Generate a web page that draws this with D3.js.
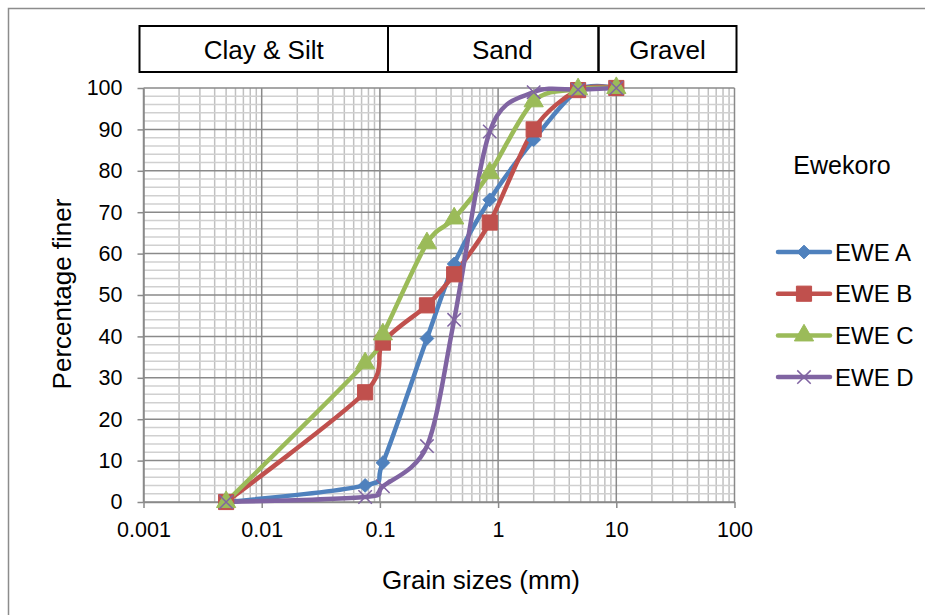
<!DOCTYPE html>
<html>
<head>
<meta charset="utf-8">
<script src="https://cdn.jsdelivr.net/npm/d3@7"></script>
<style>
	body { margin: 0; background: #fff; }
	svg { display: block; font-family: "Liberation Sans", Arial, sans-serif; }
</style>
</head>
<body>
<div class="chart"></div>
<script>
// sieve sizes (mm) and percentage finer for each sample
var sizes = [0.005, 0.075, 0.106, 0.25, 0.425, 0.85, 2, 4.75, 10];
var eweA = [0, 4, 9.5, 39.5, 57.5, 73, 87.5, 99.5, 100];
var eweB = [0, 26.5, 38.5, 47.5, 55, 67.5, 90, 99.5, 100];
var eweC = [0, 33.5, 40.5, 62.5, 68.5, 79.5, 96.8, 99.7, 100];
var eweD = [0, 1.2, 3.8, 13.5, 44, 89.5, 99, 99.6, 100];
var seriesNames = ["EWE A", "EWE B", "EWE C", "EWE D"];
var xTicks = [0.001, 0.01, 0.1, 1, 10, 100];
var yTicks = [0, 10, 20, 30, 40, 50, 60, 70, 80, 90, 100];
var zones = ["Clay & Silt", "Sand", "Gravel"];

var w = 925,
	h = 615,
	pLeft = 143.5,
	pRight = 734.5,
	pTop = 88,
	pBottom = 502;

var colors = ["#4F81BD", "#C0504D", "#9BBB59", "#8064A2"];
var symbols = [d3.symbolDiamond2, d3.symbolSquare, d3.symbolTriangle, d3.symbolX];
var symSizes = [120, 230, 160, 120];

var svg = d3.select(".chart").append("svg").attr("width", w).attr("height", h);

// outer chart border
svg.append("path")
	.attr("d", "M8.5,615V8.5H925")
	.attr("fill", "none")
	.attr("stroke", "#8c8c8c")
	.attr("stroke-width", 1.5);

var xScale = d3.scaleLog().domain([0.001, 100]).range([pLeft, pRight]);
var yScale = d3.scaleLinear().domain([0, 100]).range([pBottom, pTop]);

// minor grid
var minorX = [];
xTicks.slice(0, -1).forEach((t) => {
	for (var k = 2; k < 10; k++) minorX.push(t * k);
});
var minorY = d3.range(0, 101, 2).filter((v) => v % 10 != 0);

var grid = svg.append("g");
grid.selectAll(".mx")
	.data(minorX)
	.enter()
	.append("line")
	.attr("x1", (d) => xScale(d))
	.attr("x2", (d) => xScale(d))
	.attr("y1", pTop)
	.attr("y2", pBottom)
	.attr("stroke", "#c0c0c0")
	.attr("stroke-width", 1.5);
grid.selectAll(".my")
	.data(minorY)
	.enter()
	.append("line")
	.attr("x1", pLeft)
	.attr("x2", pRight)
	.attr("y1", (d) => yScale(d))
	.attr("y2", (d) => yScale(d))
	.attr("stroke", "#d0d0d0")
	.attr("stroke-width", 1.5);
grid.selectAll(".Mx")
	.data(xTicks)
	.enter()
	.append("line")
	.attr("x1", (d) => xScale(d))
	.attr("x2", (d) => xScale(d))
	.attr("y1", pTop)
	.attr("y2", pBottom)
	.attr("stroke", "#8a8a8a")
	.attr("stroke-width", 1.5);
grid.selectAll(".My")
	.data(yTicks)
	.enter()
	.append("line")
	.attr("x1", pLeft)
	.attr("x2", pRight)
	.attr("y1", (d) => yScale(d))
	.attr("y2", (d) => yScale(d))
	.attr("stroke", "#8a8a8a")
	.attr("stroke-width", 1.5);

// axes
var xAxis = d3.axisBottom(xScale).tickValues(xTicks).tickFormat((d) => String(d)).tickSize(6).tickSizeOuter(0);
var yAxis = d3.axisLeft(yScale).tickValues(yTicks).tickSize(6).tickSizeOuter(0);

svg.append("g")
	.attr("id", "x-axis")
	.attr("transform", "translate(0," + pBottom + ")")
	.call(xAxis)
	.call((g) => {
		g.attr("font-size", 21.5).attr("font-family", null);
		g.select(".domain").attr("stroke", "#8a8a8a").attr("stroke-width", 1.5);
		g.selectAll(".tick line").attr("stroke", "#8a8a8a").attr("stroke-width", 1.5);
		g.selectAll(".tick text").attr("fill", "#000").attr("y", 20).attr("dy", "0.71em");
	});
svg.append("g")
	.attr("id", "y-axis")
	.attr("transform", "translate(" + pLeft + ",0)")
	.call(yAxis)
	.call((g) => {
		g.attr("font-size", 21.5).attr("font-family", null);
		g.select(".domain").attr("stroke", "#8a8a8a").attr("stroke-width", 1.5);
		g.selectAll(".tick line").attr("stroke", "#8a8a8a").attr("stroke-width", 1.5);
		g.selectAll(".tick text").attr("fill", "#000").attr("x", -21);
	});

// axis titles
svg.append("text")
	.attr("x", 481)
	.attr("y", 589)
	.attr("text-anchor", "middle")
	.attr("font-size", 26)
	.text("Grain sizes (mm)");
svg.append("text")
	.attr("transform", "translate(71,294) rotate(-90)")
	.attr("text-anchor", "middle")
	.attr("font-size", 26)
	.text("Percentage finer");

// soil class header
var zoneEdges = [139.5, 388, 598.5, 736.5];
svg.selectAll(".zone")
	.data(zones)
	.enter()
	.append("rect")
	.attr("x", (d, i) => zoneEdges[i])
	.attr("y", 26)
	.attr("width", (d, i) => zoneEdges[i + 1] - zoneEdges[i])
	.attr("height", 46)
	.attr("fill", "none")
	.attr("stroke", "#000")
	.attr("stroke-width", 2);
svg.selectAll(".zlabel")
	.data(zones)
	.enter()
	.append("text")
	.attr("x", (d, i) => (zoneEdges[i] + zoneEdges[i + 1]) / 2 + (i == 1 ? 9 : 0))
	.attr("y", 59)
	.attr("text-anchor", "middle")
	.attr("font-size", 26)
	.text((d) => d);

// series
var dataset = [eweA, eweB, eweC, eweD].map((vals, i) => ({
	name: seriesNames[i],
	points: vals.map((v, j) => [sizes[j], v])
}));

var line = d3.line()
	.x((d) => xScale(d[0]))
	.y((d) => yScale(d[1]))
	.curve(d3.curveCardinal.tension(0.1));

var plot = svg.append("g");
dataset.forEach((s, i) => {
	plot.append("path")
		.attr("d", line(s.points))
		.attr("fill", "none")
		.attr("stroke", colors[i])
		.attr("stroke-width", 4.5)
		.attr("stroke-linejoin", "round");
});
dataset.forEach((s, i) => {
	plot.selectAll(".m" + i)
		.data(s.points)
		.enter()
		.append("path")
		.attr("transform", (d) => "translate(" + xScale(d[0]) + "," + yScale(d[1]) + ")")
		.attr("d", d3.symbol().type(symbols[i]).size(symSizes[i]))
		.attr("fill", i == 3 ? "none" : colors[i])
		.attr("stroke", colors[i])
		.attr("stroke-width", i == 3 ? 1.5 : 1);
});

// legend
svg.append("text")
	.attr("x", 842)
	.attr("y", 174)
	.attr("text-anchor", "middle")
	.attr("font-size", 25)
	.text("Ewekoro");

var legend = svg.selectAll(".legend")
	.data(dataset)
	.enter()
	.append("g")
	.attr("transform", (d, i) => "translate(0," + (252 + i * 41.7) + ")");
legend.append("line")
	.attr("x1", 778)
	.attr("x2", 830)
	.attr("stroke", (d, i) => colors[i])
	.attr("stroke-width", 4.5)
	.attr("stroke-linecap", "round");
legend.append("path")
	.attr("transform", "translate(804,0)")
	.attr("d", (d, i) => d3.symbol().type(symbols[i]).size(symSizes[i])())
	.attr("fill", (d, i) => (i == 3 ? "none" : colors[i]))
	.attr("stroke", (d, i) => colors[i])
	.attr("stroke-width", (d, i) => (i == 3 ? 1.5 : 1));
legend.append("text")
	.attr("x", 835)
	.attr("y", 8.5)
	.attr("font-size", 24)
	.text((d) => d.name);
</script>
</body>
</html>
